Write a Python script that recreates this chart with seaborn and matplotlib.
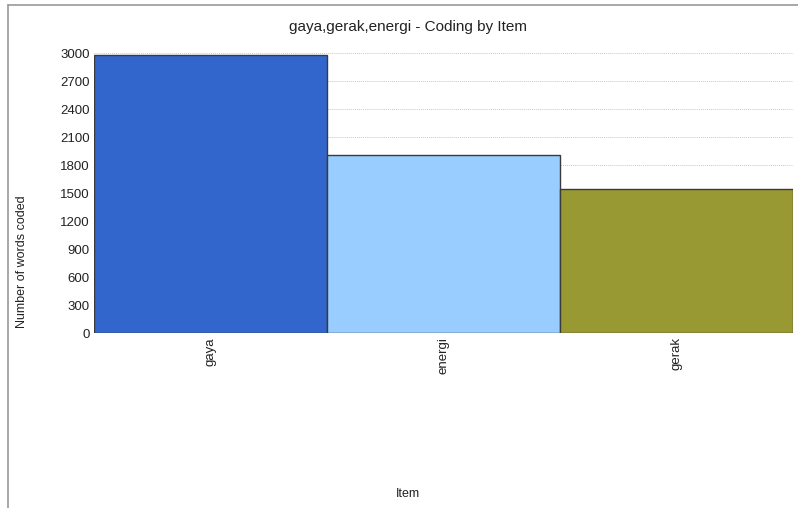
import matplotlib
matplotlib.use("Agg")
import matplotlib.pyplot as plt
import seaborn as sns
import pandas as pd
from matplotlib.lines import Line2D

items = ["gaya", "energi", "gerak"]
words_coded = [2980, 1905, 1545]
bar_colors = ["#3366CC", "#99CCFF", "#999933"]
y_ticks = [0, 300, 600, 900, 1200, 1500, 1800, 2100, 2400, 2700, 3000]

sns.set_theme(style="white")
plt.rcParams["font.family"] = ["Liberation Sans", "DejaVu Sans"]

df = pd.DataFrame({"Item": items, "Words": words_coded})

fig = plt.figure(figsize=(7.98, 5.08), dpi=100)
ax = fig.add_axes([94/798, 1-333/508, 699/798, 280/508])

for t in y_ticks[1:]:
    ax.axhline(t, color="#c8c8c8", lw=0.7, ls=(0, (1, 1)), zorder=0)

sns.barplot(data=df, x="Item", y="Words", hue="Item", palette=bar_colors,
            saturation=1, width=1.0, edgecolor="#3a3a3a", linewidth=1.0,
            legend=False, ax=ax, zorder=2)

ax.set_xlim(-0.5, 2.5)
ax.set_ylim(0, 3000)
ax.set_yticks(y_ticks)
ax.set_yticklabels([str(v) for v in y_ticks], fontsize=9.5, color="#222222")
ax.set_xticks(range(len(items)))
ax.set_xticklabels(items, rotation=90, fontsize=9.5, color="#222222", va="top")
ax.tick_params(axis="both", length=0, pad=3)
for s in ax.spines.values():
    s.set_visible(False)
ax.set_xlabel("")
ax.set_ylabel("")
ax.grid(False)

fig.text(408/798, 1-27/508, "gaya,gerak,energi - Coding by Item",
         ha="center", va="center", fontsize=11, color="#222222")
fig.text(22/798, 1-262/508, "Number of words coded", rotation=90,
         ha="center", va="center", fontsize=9, color="#222222")
fig.text(408/798, 1-494/508, "Item", ha="center", va="center",
         fontsize=9, color="#222222")

fig.add_artist(Line2D([8/798, 1.0], [1-5/508, 1-5/508], color="#999999", lw=1.2,
                      transform=fig.transFigure))
fig.add_artist(Line2D([8/798, 8/798], [0, 1-5/508], color="#999999", lw=1.2,
                      transform=fig.transFigure))

fig.savefig("out.png", dpi=100)
